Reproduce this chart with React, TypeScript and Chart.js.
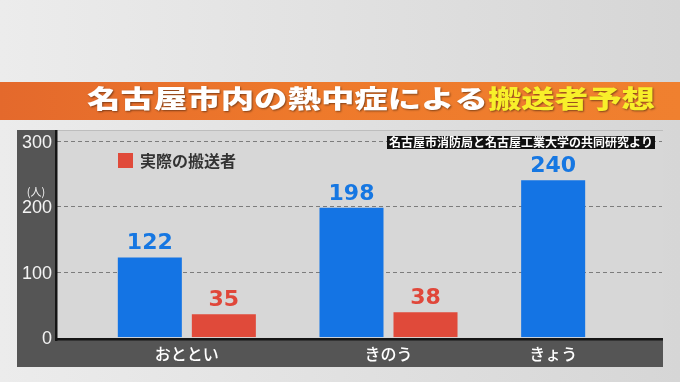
import React, { useEffect, useRef } from 'react';
import { Chart, registerables } from 'chart.js';

Chart.register(...registerables);

// ---- data ----
const categories = ['おととい', 'きのう', 'きょう'];
const predictedValues: (number | null)[] = [122, 198, 240];
const actualValues: (number | null)[] = [35, 38, null];
const yTickValues = [0, 100, 200, 300];
const predictedLabel = '搬送者予想';
const actualLabel = '実際の搬送者';
const titleWhite = '名古屋市内の熱中症による';
const titleYellow = '搬送者予想';
const sourceNote = '名古屋市消防局と名古屋工業大学の共同研究より';
const unitLabel = '(人)';

const JP = '"Noto Sans CJK JP", "Noto Sans", sans-serif';
const BLUE = '#1474e4';
const RED = '#e04a3a';

const FRAME = { left: 17, right: 663, top: 130, bottom: 367 };
const PLOT_LEFT = 57;
const AXIS_Y = 339;

const decor = {
  id: 'decor',
  beforeDraw(chart: any) {
    const { ctx, width, height } = chart;
    ctx.save();
    const bg = ctx.createLinearGradient(0, 0, 680, 0);
    bg.addColorStop(0, '#ececec');
    bg.addColorStop(1, '#d6d6d6');
    ctx.fillStyle = bg;
    ctx.fillRect(0, 0, width, height);

    // banner
    const bn = ctx.createLinearGradient(0, 0, 680, 0);
    bn.addColorStop(0, '#e4692c');
    bn.addColorStop(0.45, '#ee792b');
    bn.addColorStop(1, '#f0802f');
    ctx.fillStyle = bn;
    ctx.fillRect(0, 82, width, 38);

    // title
    ctx.font = `900 25px ${JP}`;
    ctx.textBaseline = 'middle';
    ctx.textAlign = 'left';
    const wW = ctx.measureText(titleWhite).width;
    const wY = ctx.measureText(titleYellow).width;
    const sx = (655 - 87) / (wW + wY);
    ctx.save();
    ctx.translate(87, 98.5);
    ctx.scale(sx, 1);
    ctx.shadowColor = 'rgba(0,0,0,0.45)';
    ctx.shadowBlur = 2;
    ctx.shadowOffsetX = 1;
    ctx.shadowOffsetY = 1;
    ctx.fillStyle = '#ffffff';
    ctx.fillText(titleWhite, 0, 0);
    ctx.fillStyle = '#f8ef2a';
    ctx.fillText(titleYellow, wW, 0);
    ctx.restore();

    // frame
    ctx.fillStyle = '#555555';
    ctx.fillRect(FRAME.left, FRAME.top, FRAME.right - FRAME.left, FRAME.bottom - FRAME.top);
    ctx.fillStyle = '#d7d7d7';
    ctx.fillRect(PLOT_LEFT, FRAME.top, FRAME.right - PLOT_LEFT, AXIS_Y - FRAME.top);
    ctx.fillStyle = '#bdbdbd';
    ctx.fillRect(PLOT_LEFT, FRAME.top, FRAME.right - PLOT_LEFT, 1);

    // unit label
    ctx.fillStyle = '#f2f2f2';
    ctx.font = `11px ${JP}`;
    ctx.textAlign = 'center';
    ctx.textBaseline = 'middle';
    ctx.fillText(unitLabel, 36, 192);
    ctx.restore();
  },
  beforeDatasetsDraw(chart: any) {
    const { ctx } = chart;
    const ys = chart.scales.y;
    ctx.save();
    ctx.strokeStyle = '#7c7c7c';
    ctx.lineWidth = 1;
    ctx.setLineDash([4, 3]);
    ys.ticks.forEach((t: any) => {
      if (t.value <= 0) return;
      const y = Math.round(ys.getPixelForValue(t.value)) + 0.5;
      ctx.beginPath();
      ctx.moveTo(PLOT_LEFT, y);
      ctx.lineTo(FRAME.right - 1, y);
      ctx.stroke();
    });
    ctx.restore();
  },
  afterDatasetsDraw(chart: any) {
    const { ctx } = chart;
    ctx.save();
    // axis lines
    ctx.fillStyle = '#151515';
    ctx.fillRect(55, FRAME.top, 2.5, AXIS_Y - FRAME.top + 2);
    ctx.fillRect(55, AXIS_Y - 1, FRAME.right - 55, 2.5);

    // value labels
    ctx.font = `bold 22px "DejaVu Sans", sans-serif`;
    ctx.textAlign = 'center';
    ctx.textBaseline = 'alphabetic';
    chart.data.datasets.forEach((ds: any, di: number) => {
      const meta = chart.getDatasetMeta(di);
      meta.data.forEach((bar: any, i: number) => {
        const v = ds.data[i];
        if (v === null || v === undefined) return;
        ctx.fillStyle = ds.labelColor;
        ctx.fillText(String(v), bar.x, bar.y - 8);
      });
    });

    // category labels (centred under the bars present)
    ctx.font = `500 16px ${JP}`;
    ctx.fillStyle = '#ffffff';
    ctx.textBaseline = 'middle';
    categories.forEach((c, i) => {
      let sum = 0;
      let n = 0;
      chart.data.datasets.forEach((ds: any, di: number) => {
        const v = ds.data[i];
        if (v === null || v === undefined) return;
        sum += chart.getDatasetMeta(di).data[i].x;
        n++;
      });
      if (n) ctx.fillText(c, sum / n, 354);
    });

    // legend (actual only)
    const lds = chart.data.datasets[1];
    ctx.fillStyle = lds.backgroundColor;
    ctx.fillRect(118, 153, 15, 15);
    ctx.fillStyle = '#333333';
    ctx.font = `bold 16px ${JP}`;
    ctx.textAlign = 'left';
    ctx.fillText(lds.label, 140, 161);

    // source note
    ctx.fillStyle = '#111111';
    ctx.fillRect(387, 136, 268, 13);
    ctx.font = `bold 12px ${JP}`;
    const w = ctx.measureText(sourceNote).width;
    ctx.save();
    ctx.translate(389, 142.5);
    ctx.scale(264 / w, 1);
    ctx.fillStyle = '#ffffff';
    ctx.textAlign = 'left';
    ctx.textBaseline = 'middle';
    ctx.fillText(sourceNote, 0, 0);
    ctx.restore();
    ctx.restore();
  },
};

export default function App() {
  const ref = useRef<HTMLCanvasElement | null>(null);
  useEffect(() => {
    if (!ref.current) return;
    const chart = new Chart(ref.current, {
      type: 'bar',
      data: {
        labels: categories,
        datasets: [
          {
            label: predictedLabel,
            data: predictedValues,
            backgroundColor: BLUE,
            labelColor: '#1677e2',
            categoryPercentage: 0.734,
            barPercentage: 0.865,
          } as any,
          {
            label: actualLabel,
            data: actualValues,
            backgroundColor: RED,
            labelColor: '#e0473a',
            categoryPercentage: 0.734,
            barPercentage: 0.865,
          } as any,
        ],
      },
      options: {
        animation: false,
        responsive: false,
        maintainAspectRatio: false,
        devicePixelRatio: 1,
        layout: { padding: { left: 22, right: 9, top: 130, bottom: 41 } },
        plugins: { legend: { display: false }, tooltip: { enabled: false } },
        scales: {
          x: { display: false },
          y: {
            min: 0,
            max: 317,
            afterFit: (s: any) => { s.width = 64; },
            afterBuildTicks: (s: any) => { s.ticks = yTickValues.map((v) => ({ value: v })); },
            grid: { display: false, drawTicks: false },
            border: { display: false },
            ticks: {
              color: '#f4f4f4',
              font: { size: 18, family: '"Liberation Sans", Arial, sans-serif' },
              padding: 34,
              labelOffset: 2,
            },
          },
        },
      },
      plugins: [decor],
    });
    return () => chart.destroy();
  }, []);
  return (
    <div style={{ position: 'fixed', left: 0, top: 0, width: 700, height: 382 }}>
      <canvas ref={ref} width={700} height={382} style={{ width: 700, height: 382, display: 'block' }} />
    </div>
  );
}
